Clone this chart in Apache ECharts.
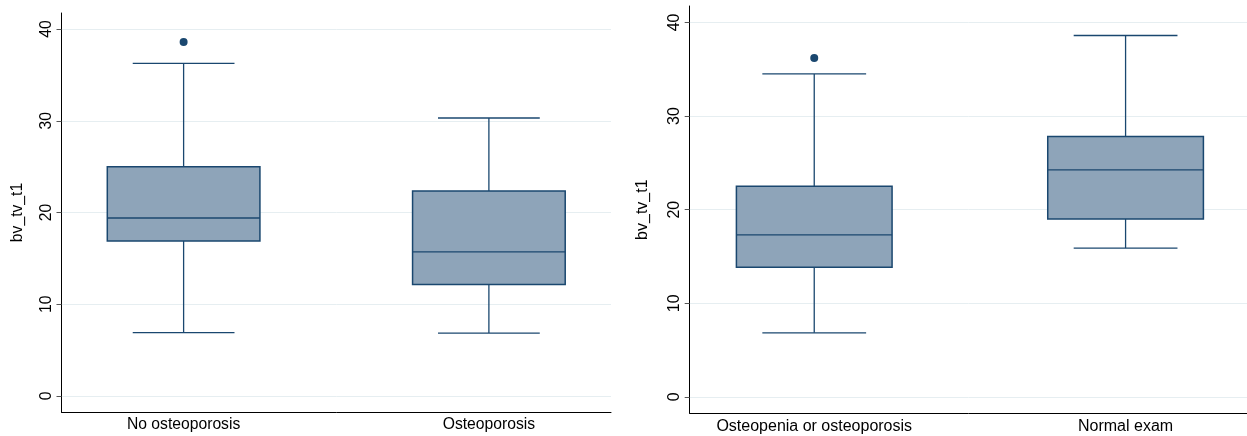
<!DOCTYPE html>
<html>
<head>
<meta charset="utf-8">
<script src="https://cdn.jsdelivr.net/npm/echarts@6/dist/echarts.min.js"></script>
<style>
html,body{margin:0;padding:0;background:#fff;}
#chart{width:1247px;height:436px;}
</style>
</head>
<body>
<div id="chart"></div>
<script>
// ---- data ----
const catsLeft = ['No osteoporosis', 'Osteoporosis'];
const catsRight = ['Osteopenia or osteoporosis', 'Normal exam'];
// [min(whisker), Q1, median, Q3, max(whisker)]
const statsLeft = [
  [6.9, 16.9, 19.4, 25.0, 36.25],
  [6.85, 12.15, 15.7, 22.35, 30.3]
];
const statsRight = [
  [6.85, 13.85, 17.3, 22.5, 34.5],
  [15.9, 19.0, 24.25, 27.8, 38.6]
];
// [category position, value]
const outliersLeft = [[1, 38.6]];
const outliersRight = [[1, 36.2]];
const yTicks = [0, 10, 20, 30, 40];
const yName = 'bv_tv_t1';

// ---- styling ----
const NAVY = '#1a476f';
const FILL = '#8ea4b9';
const GRIDC = '#e6eef1';
const FONT = '"Liberation Sans", Arial, Helvetica, sans-serif';

function toBoxData(stats) {
  return stats.map((s, i) => [i + 1].concat(s));
}

function renderBox(params, api) {
  const x = api.value(0);
  const mn = api.coord([x, api.value(1)]);
  const q1 = api.coord([x, api.value(2)]);
  const md = api.coord([x, api.value(3)]);
  const q3 = api.coord([x, api.value(4)]);
  const mx = api.coord([x, api.value(5)]);
  const half = api.size([0.25, 0])[0];
  const capHalf = api.size([1 / 6, 0])[0];
  const cx = mn[0];
  const ls = { stroke: NAVY, lineWidth: 1.3 };
  return {
    type: 'group',
    children: [
      { type: 'line', shape: { x1: cx, y1: mn[1], x2: cx, y2: q1[1] }, style: ls },
      { type: 'line', shape: { x1: cx, y1: q3[1], x2: cx, y2: mx[1] }, style: ls },
      { type: 'line', shape: { x1: cx - capHalf, y1: mn[1], x2: cx + capHalf, y2: mn[1] }, style: ls },
      { type: 'line', shape: { x1: cx - capHalf, y1: mx[1], x2: cx + capHalf, y2: mx[1] }, style: ls },
      { type: 'rect', shape: { x: cx - half, y: q3[1], width: 2 * half, height: q1[1] - q3[1] },
        style: { fill: FILL, stroke: NAVY, lineWidth: 1.5 } },
      { type: 'line', shape: { x1: cx - half, y1: md[1], x2: cx + half, y2: md[1] }, style: ls }
    ]
  };
}

function xAxisCfg(gridIndex, cats, max, fs) {
  return {
    type: 'value', gridIndex: gridIndex, min: 0.6, max: max,
    axisLine: { show: true, onZero: false, lineStyle: { color: '#000', width: 1 } },
    axisTick: { show: false },
    splitLine: { show: false },
    axisLabel: {
      customValues: [1, 2],
      formatter: v => cats[Math.round(v) - 1] || '',
      color: '#000', fontSize: fs, fontFamily: FONT, margin: 5
    }
  };
}

function yAxisCfg(gridIndex, nameGap, fs) {
  return {
    type: 'value', gridIndex: gridIndex, min: -1.75, max: 41.75,
    name: yName, nameLocation: 'middle', nameRotate: 90, nameGap: nameGap,
    nameTextStyle: { color: '#000', fontSize: fs, fontFamily: FONT },
    axisLine: { show: true, onZero: false, lineStyle: { color: '#000', width: 1 } },
    axisTick: { show: true, customValues: yTicks, length: 5, lineStyle: { color: '#555' } },
    axisLabel: {
      customValues: yTicks, rotate: 90, color: '#000', fontSize: fs,
      fontFamily: FONT, margin: 7
    },
    splitLine: { show: true, lineStyle: { color: GRIDC, width: 1 } }
  };
}

const chart = echarts.init(document.getElementById('chart'), null, { renderer: 'canvas' });
chart.setOption({
  backgroundColor: '#fff',
  animation: false,
  grid: [
    { left: 61.5, right: 636, top: 13, bottom: 24, outerBoundsMode: 'none', containLabel: false },
    { left: 689.7, right: 0, top: 6, bottom: 22.7, outerBoundsMode: 'none', containLabel: false }
  ],
  xAxis: [xAxisCfg(0, catsLeft, 2.4, 15.7), xAxisCfg(1, catsRight, 2.39, 16)],
  yAxis: [yAxisCfg(0, 36, 15.7), yAxisCfg(1, 39, 16)],
  series: [
    { type: 'custom', xAxisIndex: 0, yAxisIndex: 0, renderItem: renderBox,
      encode: { x: 0, y: [1, 2, 3, 4, 5] }, data: toBoxData(statsLeft), z: 2 },
    { type: 'custom', xAxisIndex: 1, yAxisIndex: 1, renderItem: renderBox,
      encode: { x: 0, y: [1, 2, 3, 4, 5] }, data: toBoxData(statsRight), z: 2 },
    { type: 'scatter', xAxisIndex: 0, yAxisIndex: 0, data: outliersLeft,
      symbolSize: 8, itemStyle: { color: NAVY, opacity: 1 }, z: 3 },
    { type: 'scatter', xAxisIndex: 1, yAxisIndex: 1, data: outliersRight,
      symbolSize: 8, itemStyle: { color: NAVY, opacity: 1 }, z: 3 }
  ]
});
</script>
</body>
</html>
